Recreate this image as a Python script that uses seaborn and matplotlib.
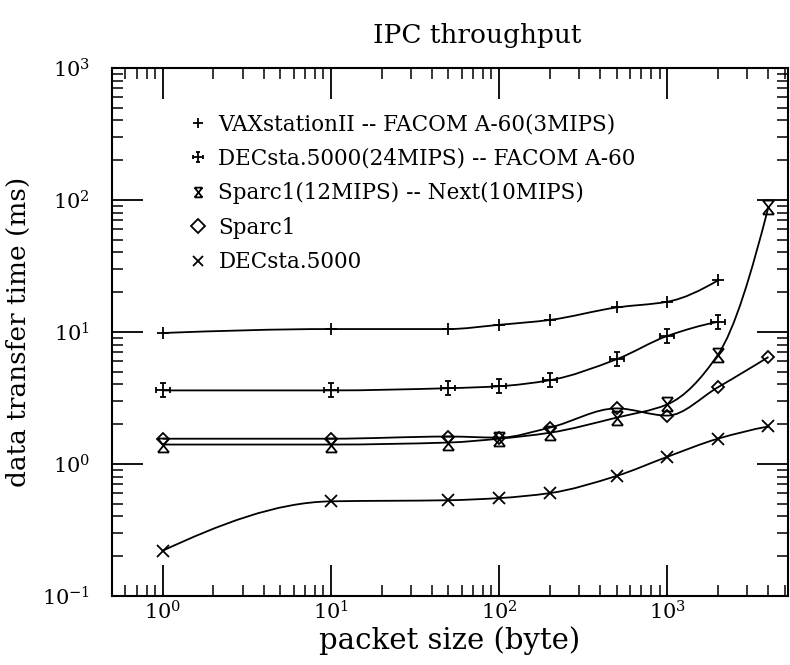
import numpy as np
import matplotlib
matplotlib.use("Agg")
import matplotlib.pyplot as plt
import seaborn as sns
import pandas as pd
from matplotlib.path import Path
from matplotlib.patches import PathPatch
from matplotlib.ticker import LogLocator, NullFormatter

# ---- data ----
packet_size = [1, 10, 50, 100, 200, 500, 1000, 2000, 4000]
vax_facom = [9.8, 10.5, 10.5, 11.3, 12.3, 15.3, 16.9, 24.5]
dec24_facom = [3.6, 3.6, 3.74, 3.87, 4.3, 6.2, 9.3, 11.9]
sparc_next = [1.40, 1.40, 1.45, 1.55, 1.72, 2.24, 2.82, 6.7, 88.5]
sparc1 = [1.55, 1.55, 1.61, 1.58, 1.88, 2.63, 2.32, 3.8, 6.45]
decsta5000 = [0.22, 0.52, 0.53, 0.55, 0.60, 0.81, 1.13, 1.55, 1.92]

labels = ["VAXstationII -- FACOM A-60(3MIPS)",
          "DECsta.5000(24MIPS) -- FACOM A-60",
          "Sparc1(12MIPS) -- Next(10MIPS)",
          "Sparc1",
          "DECsta.5000"]
series = [vax_facom, dec24_facom, sparc_next, sparc1, decsta5000]

# ---- custom markers ----
M, L = Path.MOVETO, Path.LINETO
cap = 0.45
dec24_marker = Path(
    [(0, -1), (0, 1), (-cap, 1), (cap, 1), (-cap, -1), (cap, -1),
     (-1, 0), (1, 0), (-1, -cap), (-1, cap), (1, -cap), (1, cap)],
    [M, L, M, L, M, L, M, L, M, L, M, L])
hour_marker = Path(
    [(-0.8, 1), (0.8, 1), (-0.8, -1), (0.8, -1), (-0.8, 1), (0.8, -1),
     (0.8, 1), (-0.8, -1)],
    [M, L, M, L, M, L, M, L])
markers = ["+", dec24_marker, hour_marker, "D", "x"]
msizes = [9, 10, 10, 6.0, 9]

sns.set_theme(style="ticks")
plt.rcParams["font.family"] = ["DejaVu Serif"]
plt.rcParams["mathtext.fontset"] = "dejavuserif"
plt.rcParams["text.color"] = "black"
plt.rcParams["axes.labelcolor"] = "black"
plt.rcParams["xtick.color"] = "black"
plt.rcParams["ytick.color"] = "black"

fig = plt.figure(figsize=(7.9, 6.65), dpi=100)
ax = fig.add_axes([0.142, 0.104, 0.855, 0.794])
ax.set_xscale("log")
ax.set_yscale("log")


def pchip_slopes(x, y):
    h = np.diff(x)
    d = np.diff(y) / h
    n = len(x)
    m = np.zeros(n)
    for k in range(1, n - 1):
        if d[k - 1] * d[k] <= 0:
            m[k] = 0.0
        else:
            w1 = 2 * h[k] + h[k - 1]
            w2 = h[k] + 2 * h[k - 1]
            m[k] = (w1 + w2) / (w1 / d[k - 1] + w2 / d[k])

    def end(h0, h1, d0, d1):
        s = ((2 * h0 + h1) * d0 - h0 * d1) / (h0 + h1)
        if np.sign(s) != np.sign(d0):
            s = 0.0
        elif np.sign(d0) != np.sign(d1) and abs(s) > abs(3 * d0):
            s = 3 * d0
        return s
    m[0] = end(h[0], h[1], d[0], d[1])
    m[-1] = end(h[-1], h[-2], d[-1], d[-2])
    return m


def smooth_path(xs, ys):
    lx = np.log10(xs)
    ly = np.log10(ys)
    m = pchip_slopes(lx, ly)
    verts = [(lx[0], ly[0])]
    codes = [Path.MOVETO]
    for i in range(len(lx) - 1):
        h = lx[i + 1] - lx[i]
        verts += [(lx[i] + h / 3, ly[i] + m[i] * h / 3),
                  (lx[i + 1] - h / 3, ly[i + 1] - m[i + 1] * h / 3),
                  (lx[i + 1], ly[i + 1])]
        codes += [Path.CURVE4] * 3
    return Path(10 ** np.array(verts), codes)


for ys, lab, mk, ms in zip(series, labels, markers, msizes):
    xs = packet_size[:len(ys)]
    ax.add_patch(PathPatch(smooth_path(xs, ys), facecolor="none",
                           edgecolor="black", lw=1.3, transform=ax.transData))
    df = pd.DataFrame({"x": xs, "y": ys})
    sns.lineplot(data=df, x="x", y="y", ax=ax, marker=mk, linestyle="none",
                 color="black", markersize=ms, markeredgewidth=1.3,
                 markerfacecolor="none", markeredgecolor="black", label=lab)

ax.set_xlim(0.5, 5200)
ax.set_ylim(0.1, 1000)

ax.xaxis.set_major_locator(LogLocator(base=10, numticks=10))
ax.yaxis.set_major_locator(LogLocator(base=10, numticks=10))
ax.xaxis.set_minor_locator(LogLocator(base=10, subs=np.arange(2, 10), numticks=20))
ax.yaxis.set_minor_locator(LogLocator(base=10, subs=np.arange(2, 10), numticks=20))
ax.xaxis.set_minor_formatter(NullFormatter())
ax.yaxis.set_minor_formatter(NullFormatter())

ax.tick_params(which="major", direction="in", length=22, width=1.3,
               top=True, right=True, labelsize=15, colors="black")
ax.tick_params(which="minor", direction="in", length=8, width=1.1,
               top=True, right=True)
ax.tick_params(axis="x", which="major", pad=3)
ax.tick_params(axis="y", which="major", pad=16)
for s in ax.spines.values():
    s.set_linewidth(1.5)
    s.set_color("black")

ax.set_xlabel("packet size (byte)", fontsize=21, labelpad=2)
ax.set_ylabel("data transfer time (ms)", fontsize=19, labelpad=8)
ax.set_title("IPC throughput", fontsize=19, pad=18, x=0.54)

leg = ax.legend(loc="upper left", bbox_to_anchor=(0.1, 0.93), frameon=False,
                fontsize=15.5, handlelength=0.9, handletextpad=0.5,
                labelspacing=0.58, borderaxespad=0)
for h in leg.legend_handles:
    h.set_markersize(7)

fig.savefig("out.png", dpi=100)
